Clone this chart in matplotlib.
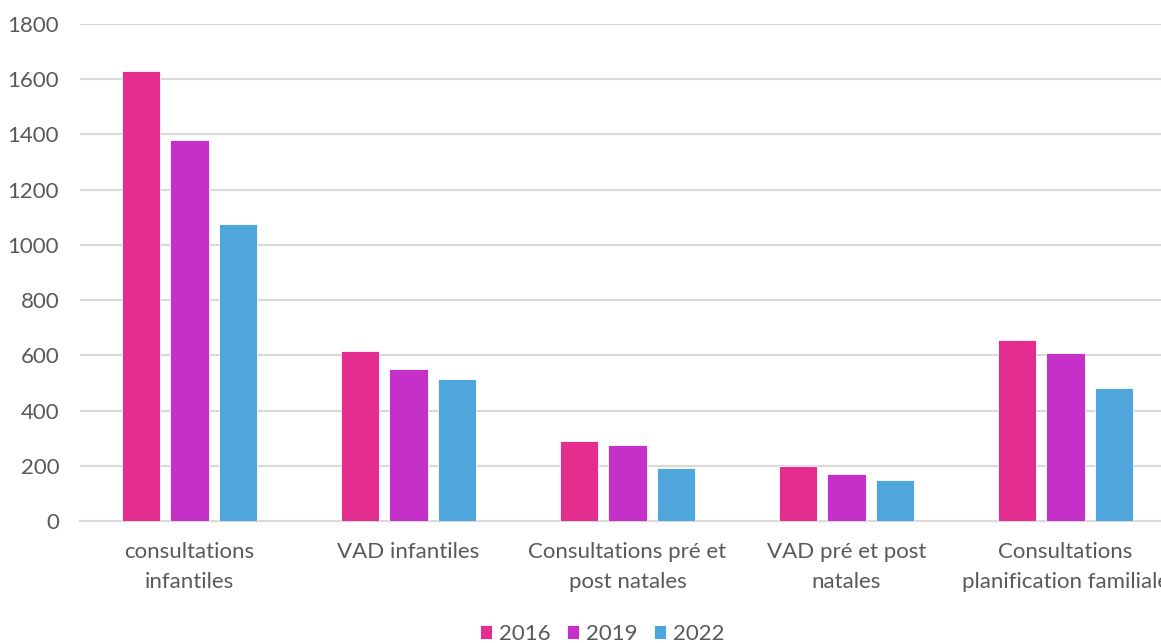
import numpy as np
import matplotlib
matplotlib.use("Agg")
import matplotlib.pyplot as plt

categories = ["consultations\ninfantiles", "VAD infantiles",
              "Consultations pré et\npost natales", "VAD pré et post\nnatales",
              "Consultations\nplanification familiale"]
years = ["2016", "2019", "2022"]
v2016 = [1628, 614, 290, 198, 656]
v2019 = [1381, 550, 275, 172, 609]
v2022 = [1075, 516, 193, 147, 480]
colors = ["#e32d8f", "#c530c8", "#4fa6dc"]

plt.rcParams['font.family'] = ['Lato', 'DejaVu Sans']

fig = plt.figure(figsize=(11.61, 6.43), dpi=100)
# axes runs past the right edge, as in the cropped original
ax = fig.add_axes([80/1161, 122/643, 1095/1161, 497/643])

x = np.arange(len(categories))
step = 0.2215
for i, (vals, c, lab) in enumerate(zip([v2016, v2019, v2022], colors, years)):
    ax.bar(x + (i - 1) * step, vals, width=0.175, color=c, label=lab,
           edgecolor="white", linewidth=0.6, zorder=3)

ax.set_xlim(-0.5, len(categories) - 0.5)
ax.set_ylim(0, 1800)
ax.set_yticks(range(0, 1801, 200))
ax.yaxis.grid(True, color="#d9d9d9", linewidth=1.5, zorder=0)
for s in ["top", "right", "left"]:
    ax.spines[s].set_visible(False)
ax.spines["bottom"].set_color("#d9d9d9")
ax.spines["bottom"].set_linewidth(1.5)
ax.tick_params(axis="both", length=0, colors="#595959", labelsize=16)
ax.tick_params(axis="y", pad=15)
ax.tick_params(axis="x", pad=15)
ax.set_xticks(x)
ax.set_xticklabels(categories, linespacing=1.65)

leg = fig.legend(loc="center", bbox_to_anchor=(602/1161, 1 - 634/643), ncol=3,
                 frameon=False, fontsize=16, handlelength=0.55, handleheight=0.55,
                 handletextpad=0.3, columnspacing=0.75)
for t in leg.get_texts():
    t.set_color("#595959")

fig.savefig("out.png", dpi=100)
